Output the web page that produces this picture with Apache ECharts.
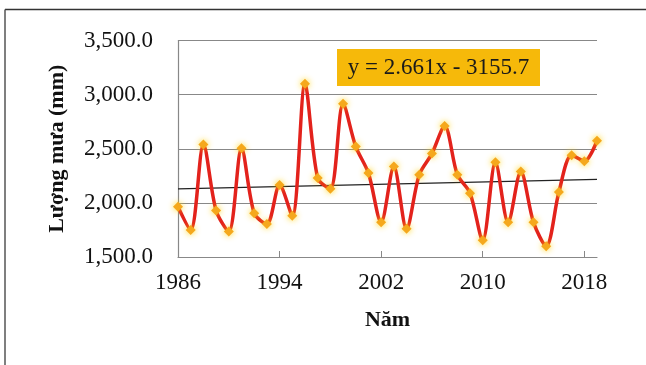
<!DOCTYPE html>
<html>
<head>
<meta charset="utf-8">
<script src="https://cdn.jsdelivr.net/npm/echarts@6/dist/echarts.min.js"></script>
<style>
  html, body { margin: 0; padding: 0; background: #fff; }
  #chart { width: 646px; height: 365px; }
</style>
</head>
<body>
<div id="chart"></div>
<script>
var years = ['1986','1987','1988','1989','1990','1991','1992','1993','1994','1995',
             '1996','1997','1998','1999','2000','2001','2002','2003','2004','2005',
             '2006','2007','2008','2009','2010','2011','2012','2013','2014','2015',
             '2016','2017','2018','2019'];
var rainfall = [1965, 1750, 2540, 1930, 1735, 2505, 1905, 1805, 2165, 1880,
                3100, 2230, 2130, 2915, 2520, 2275, 1820, 2335, 1760, 2260,
                2455, 2710, 2260, 2090, 1655, 2375, 1820, 2290, 1820, 1600,
                2100, 2440, 2385, 2575];
var trendData = [['1986', 2129.4], ['2019', 2217.2]];
var yTicks = [1500, 2000, 2500, 3000, 3500];
var equationText = 'y = 2.661x - 3155.7';
var yTitle = 'Lượng mưa (mm)';
var xTitle = 'Năm';

var serif = '"Liberation Serif", "Times New Roman", serif';
var chart = echarts.init(document.getElementById('chart'), null, { renderer: 'canvas' });

function fmt(v) {
  var s = v.toFixed(1);
  var parts = s.split('.');
  parts[0] = parts[0].replace(/\B(?=(\d{3})+(?!\d))/g, ',');
  return parts.join('.');
}

chart.setOption({
  backgroundColor: '#ffffff',
  animation: false,
  grid: { left: 178, right: 49, top: 40.5, bottom: 108 },
  xAxis: {
    type: 'category',
    data: years,
    boundaryGap: false,
    name: xTitle,
    nameLocation: 'middle',
    nameGap: 52,
    nameTextStyle: { fontFamily: serif, fontSize: 22, fontWeight: 'bold', color: '#111' },
    axisLine: { lineStyle: { color: '#888', width: 1.2 } },
    axisTick: { show: true, inside: true, length: 6, interval: 7, lineStyle: { color: '#888' } },
    axisLabel: { interval: 7, fontFamily: serif, fontSize: 23, color: '#111', margin: 14 },
    splitLine: { show: false }
  },
  yAxis: {
    type: 'value',
    min: yTicks[0],
    max: yTicks[yTicks.length - 1],
    interval: 500,
    name: yTitle,
    nameLocation: 'middle',
    nameGap: 110,
    nameRotate: 90,
    nameTextStyle: { fontFamily: serif, fontSize: 22, fontWeight: 'bold', color: '#111' },
    axisLine: { show: true, lineStyle: { color: '#888', width: 1.2 } },
    axisTick: { show: false },
    axisLabel: { formatter: fmt, fontFamily: serif, fontSize: 23, color: '#111', margin: 25 },
    splitLine: { lineStyle: { color: '#888', width: 1.2 } }
  },
  series: [
    {
      type: 'line',
      data: rainfall,
      smooth: 0.3,
      showAllSymbol: true,
      symbol: 'diamond',
      symbolSize: 10,
      lineStyle: { color: '#E3221C', width: 3.5 },
      itemStyle: { color: '#F5A81C', shadowBlur: 6, shadowColor: 'rgba(255,210,0,0.9)' },
      z: 3
    },
    {
      type: 'line',
      data: trendData,
      symbol: 'none',
      lineStyle: { color: '#222', width: 1.3 },
      z: 2,
      silent: true
    }
  ],
  graphic: [
    { type: 'line', shape: { x1: 5, y1: 9.5, x2: 646, y2: 9.5 }, style: { stroke: '#333', lineWidth: 1.5 } },
    { type: 'line', shape: { x1: 5, y1: 9.5, x2: 5, y2: 365 }, style: { stroke: '#555', lineWidth: 1.5 } },
    { type: 'rect', shape: { x: 337, y: 49, width: 203, height: 37 }, style: { fill: '#F6B90A' }, z: 10 },
    { type: 'text', x: 438.5, y: 68, style: { text: equationText, fontFamily: serif, fontSize: 23, fill: '#1a1a1a', align: 'center', verticalAlign: 'middle' }, z: 11 }
  ]
});
</script>
</body>
</html>
